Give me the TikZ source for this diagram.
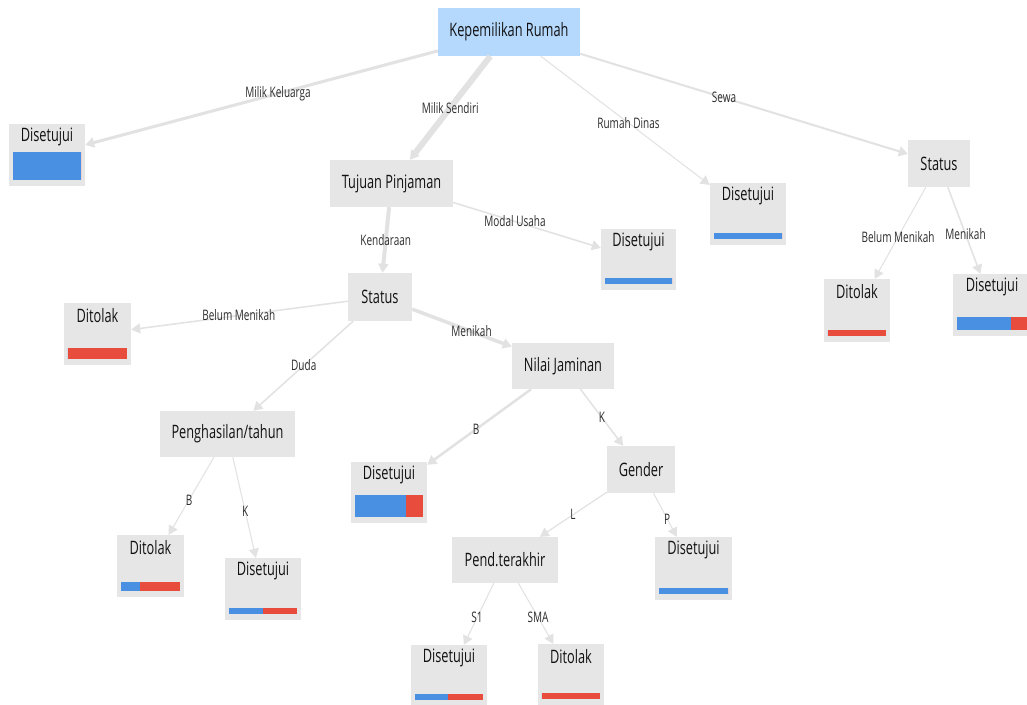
\documentclass[tikz,border=0pt]{standalone}
\usepackage{fontspec}
\setmainfont{Open Sans}[FakeStretch=0.69]
\usetikzlibrary{arrows.meta,calc}
\definecolor{nodegray}{HTML}{E6E6E6}
\definecolor{rootblue}{HTML}{B5D8FD}
\definecolor{edgegray}{HTML}{E2E2E2}
\definecolor{barblue}{HTML}{4A90E2}
\definecolor{barred}{HTML}{E74C3C}
\definecolor{txt}{HTML}{111111}
\definecolor{lbltxt}{HTML}{2E2E2E}
\newcommand{\leafbar}[3]{%
  \path ($(#1.south west)+(4,-6)$) coordinate (bl)
        ($(#1.south east)+(-4,-6-#2)$) coordinate (tr);
  \fill[barblue] (bl) rectangle ($(bl|-tr)!#3!(tr)$);
  \fill[barred] ($(bl)!#3!(tr|-bl)$) rectangle (tr);
}
\begin{document}
\begin{tikzpicture}[x=1pt,y=-1pt,
  boxnode/.style={fill=nodegray, draw=none, inner sep=0pt, text=txt, font=\fontsize{18.5}{18.5}\selectfont},
  rootnode/.style={boxnode, fill=rootblue},
  leafnode/.style={fill=nodegray, draw=none, inner sep=0pt},
  leaftext/.style={text=txt, inner sep=0pt, font=\fontsize{18.5}{18.5}\selectfont},
  edge/.style={draw=edgegray, -{Triangle[length=9pt,width=10pt]}, fill=edgegray},
  lbl/.style={text=lbltxt, inner sep=0pt, font=\fontsize{14.5}{14.5}\selectfont}
]
\useasboundingbox (0,0) rectangle (1027,704);
\fill[white] (0,0) rectangle (1027,704);

% decision nodes
\node[rootnode, minimum width=142pt, minimum height=48pt] (root) at (509,32) {Kepemilikan Rumah};
\node[boxnode, minimum width=123pt, minimum height=47pt] (tuj) at (391.5,183.5) {Tujuan Pinjaman};
\node[boxnode, minimum width=62pt, minimum height=47pt] (st2) at (939,163.5) {Status};
\node[boxnode, minimum width=64pt, minimum height=48pt] (st1) at (380,297) {Status};
\node[boxnode, minimum width=135pt, minimum height=46pt] (peng) at (227.5,434) {Penghasilan/tahun};
\node[boxnode, minimum width=102pt, minimum height=46pt] (nilai) at (563,366) {Nilai Jaminan};
\node[boxnode, minimum width=68pt, minimum height=47pt] (gender) at (641,469.5) {Gender};
\node[boxnode, minimum width=106pt, minimum height=46pt] (pend) at (505,560) {Pend.terakhir};

% leaves
\node[leafnode, minimum width=76pt, minimum height=62pt] (l1) at (47,155) {};
\node[leafnode, minimum width=76pt, minimum height=62pt] (dinas) at (748,214) {};
\node[leafnode, minimum width=75pt, minimum height=61pt] (modal) at (638.5,259.5) {};
\node[leafnode, minimum width=66pt, minimum height=63pt] (tolak2) at (857,310.5) {};
\node[leafnode, minimum width=78pt, minimum height=62pt] (setuju2) at (992,305) {};
\node[leafnode, minimum width=67pt, minimum height=62pt] (tolak1) at (97.5,334) {};
\node[leafnode, minimum width=67pt, minimum height=62pt] (tolakB) at (150.5,566) {};
\node[leafnode, minimum width=76pt, minimum height=62pt] (setujuK) at (263,589) {};
\node[leafnode, minimum width=76pt, minimum height=61pt] (setujuB) at (389,492.5) {};
\node[leafnode, minimum width=77pt, minimum height=63pt] (setujuP) at (693.5,568.5) {};
\node[leafnode, minimum width=76pt, minimum height=61pt] (setujuS) at (449,675.5) {};
\node[leafnode, minimum width=66pt, minimum height=61pt] (tolakS) at (571,674.5) {};

\foreach \n/\t in {l1/Disetujui, dinas/Disetujui, modal/Disetujui, tolak2/Ditolak,
  setuju2/Disetujui, tolak1/Ditolak, tolakB/Ditolak, setujuK/Disetujui,
  setujuB/Disetujui, setujuP/Disetujui, setujuS/Disetujui, tolakS/Ditolak}
  \node[leaftext] (\n-t) at ($(\n.north)+(0,13)$) {\t};

% bars
\leafbar{l1}{28}{1}
\leafbar{dinas}{6}{1}
\leafbar{modal}{6}{1}
\leafbar{tolak2}{6}{0}
\leafbar{setuju2}{13}{0.77}
\leafbar{tolak1}{11}{0}
\leafbar{tolakB}{9}{0.33}
\leafbar{setujuK}{6}{0.5}
\leafbar{setujuB}{22}{0.75}
\leafbar{setujuP}{6}{1}
\leafbar{setujuS}{6}{0.49}
\leafbar{tolakS}{6}{0}

% edges
\draw[edge, line width=3pt] (root) -- (l1);
\draw[edge, line width=6pt] (root) -- (tuj);
\draw[edge, line width=1pt] (root) -- (dinas);
\draw[edge, line width=2pt] (root) -- (st2);
\draw[edge, line width=1.5pt] (tuj) -- (modal);
\draw[edge, line width=4pt] (tuj) -- (st1);
\draw[edge, line width=1.5pt] (st1) -- (tolak1);
\draw[edge, line width=1.5pt] (st1) -- (peng);
\draw[edge, line width=3.5pt] (st1) -- (nilai);
\draw[edge, line width=1pt] (peng) -- (tolakB);
\draw[edge, line width=1pt] (peng) -- (setujuK);
\draw[edge, line width=2.5pt] (nilai) -- (setujuB);
\draw[edge, line width=1.5pt] (nilai) -- (gender);
\draw[edge, line width=1.2pt] (gender) -- (pend);
\draw[edge, line width=1pt] (gender) -- (setujuP);
\draw[edge, line width=1pt] (pend) -- (setujuS);
\draw[edge, line width=1pt] (pend) -- (tolakS);
\draw[edge, line width=1pt] (st2) -- (tolak2);
\draw[edge, line width=1.5pt] (st2) -- (setuju2);

% edge labels
\path (root.center) -- node[lbl] {Milik Keluarga} (l1.center);
\path (root.center) -- node[lbl] {Milik Sendiri} (tuj.center);
\path (root.center) -- node[lbl] {Rumah Dinas} (dinas.center);
\path (root.center) -- node[lbl] {Sewa} (st2.center);
\path (tuj.center) -- node[lbl] {Modal Usaha} (modal.center);
\path (tuj.center) -- node[lbl] {Kendaraan} (st1.center);
\path (st1.center) -- node[lbl] {Belum Menikah} (tolak1.center);
\path (st1.center) -- node[lbl] {Duda} (peng.center);
\path (st1.center) -- node[lbl] {Menikah} (nilai.center);
\path (peng.center) -- node[lbl] {B} (tolakB.center);
\path (peng.center) -- node[lbl] {K} (setujuK.center);
\path (nilai.center) -- node[lbl] {B} (setujuB.center);
\path (nilai.center) -- node[lbl] {K} (gender.center);
\path (gender.center) -- node[lbl] {L} (pend.center);
\path (gender.center) -- node[lbl] {P} (setujuP.center);
\path (pend.center) -- node[lbl] {S1} (setujuS.center);
\path (pend.center) -- node[lbl] {SMA} (tolakS.center);
\path (st2.center) -- node[lbl] {Belum Menikah} (tolak2.center);
\path (st2.center) -- node[lbl] {Menikah} (setuju2.center);
\end{tikzpicture}
\end{document}
